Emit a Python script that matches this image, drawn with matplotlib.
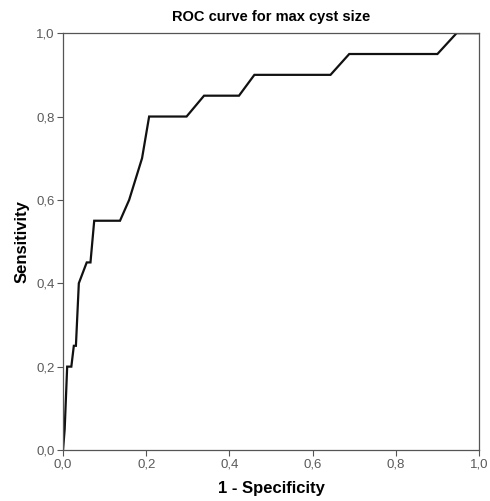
import matplotlib.pyplot as plt
from matplotlib.ticker import FuncFormatter

# ROC points
fpr = [0.0, 0.004, 0.01, 0.02, 0.026, 0.031, 0.038, 0.057, 0.066, 0.075, 0.137,
       0.159, 0.19, 0.207, 0.297, 0.339, 0.423, 0.46, 0.643, 0.688, 0.9, 0.946, 1.0]
tpr = [0.0, 0.05, 0.20, 0.20, 0.25, 0.25, 0.40, 0.45, 0.45, 0.55, 0.55,
       0.60, 0.70, 0.80, 0.80, 0.85, 0.85, 0.90, 0.90, 0.95, 0.95, 1.0, 1.0]
ticks = [0.0, 0.2, 0.4, 0.6, 0.8, 1.0]

plt.rcParams['font.family'] = ['Liberation Sans', 'DejaVu Sans']

fig = plt.figure(figsize=(4.9, 5.01), dpi=100)
ax = fig.add_axes([0.1286, 0.1018, 0.849, 0.832])

ax.plot(fpr, tpr, color='#111111', linewidth=1.6, solid_joinstyle='miter')

ax.set_xlim(0, 1)
ax.set_ylim(0, 1)
ax.set_xticks(ticks)
ax.set_yticks(ticks)
fmt = FuncFormatter(lambda v, p: f'{v:.1f}'.replace('.', ','))
ax.xaxis.set_major_formatter(fmt)
ax.yaxis.set_major_formatter(fmt)
ax.tick_params(direction='out', length=4, width=0.8, color='#555555',
               labelcolor='#5a5a5a', labelsize=9.5, pad=2)

for s in ax.spines.values():
    s.set_color('#555555')
    s.set_linewidth(0.9)

ax.set_title('ROC curve for max cyst size', fontsize=10.5, fontweight='bold', pad=9)
ax.set_xlabel('1 - Specificity', fontsize=12, fontweight='bold', labelpad=8)
ax.set_ylabel('Sensitivity', fontsize=12, fontweight='bold', labelpad=5)

fig.savefig('out.png', dpi=100)
